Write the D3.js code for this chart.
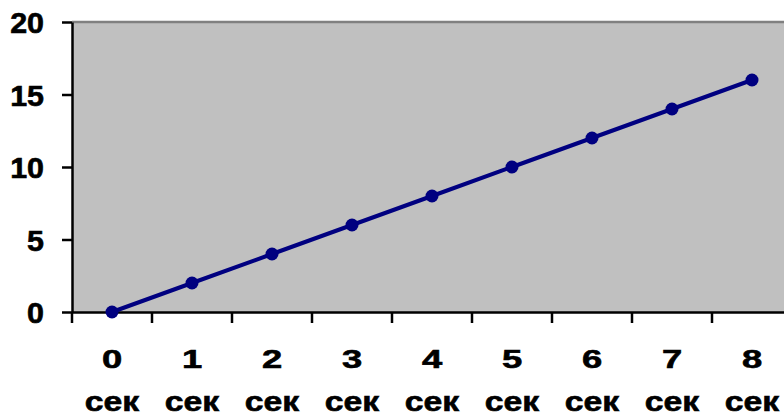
<!DOCTYPE html>
<html>
<head>
<meta charset="utf-8">
<script src="https://cdn.jsdelivr.net/npm/d3@7"></script>
<style>
  body { margin: 0; background: #fff; }
  svg { display: block; }
</style>
</head>
<body>
<div id="chart"></div>
<script>
// chart data
const seconds = ["0", "1", "2", "3", "4", "5", "6", "7", "8"];
const unit = "сек";
const values = [0, 2, 4, 6, 8, 10, 12, 14, 16];
const yTicks = [0, 5, 10, 15, 20];

const width = 784;
const height = 417;
const plot = { left: 72, top: 22, right: 792, bottom: 312 };

const svg = d3
  .select("#chart")
  .append("svg")
  .attr("width", width)
  .attr("height", height);

const x = d3.scaleBand().domain(seconds).range([plot.left, plot.right]).padding(0);
const y = d3.scaleLinear().domain([0, 20]).range([plot.bottom, plot.top]);

// plot area background
svg
  .append("rect")
  .attr("x", plot.left)
  .attr("y", plot.top)
  .attr("width", plot.right - plot.left)
  .attr("height", plot.bottom - plot.top)
  .attr("fill", "#c0c0c0");

// top border
svg
  .append("line")
  .attr("x1", plot.left)
  .attr("x2", plot.right)
  .attr("y1", plot.top)
  .attr("y2", plot.top)
  .attr("stroke", "#808080")
  .attr("stroke-width", 2.5);

// y axis
const yAxis = svg
  .append("g")
  .attr("transform", `translate(${plot.left},0)`)
  .call(d3.axisLeft(y).tickValues(yTicks).tickSize(10).tickSizeOuter(0));

yAxis.select(".domain").attr("stroke", "#000").attr("stroke-width", 2.5);
yAxis.selectAll(".tick line").attr("stroke", "#000").attr("stroke-width", 2.5);
yAxis.selectAll(".tick text").remove();
yAxis
  .selectAll(".tick")
  .append("text")
  .attr("transform", "translate(-28,10.5) scale(1.05,1)")
  .attr("text-anchor", "end")
  .attr("fill", "#000")
  .attr("stroke", "#000")
  .attr("stroke-width", 0.6)
  .style("font-family", "'Liberation Sans', Arial, sans-serif")
  .style("font-weight", "bold")
  .style("font-size", "29px")
  .text((d) => d);

// x axis
const xAxis = svg
  .append("g")
  .attr("transform", `translate(0,${plot.bottom})`)
  .call(d3.axisBottom(x).tickSize(0).tickSizeOuter(0));

xAxis.select(".domain").attr("stroke", "#000").attr("stroke-width", 2.5);
xAxis.selectAll(".tick text").remove();

// tick marks at category boundaries
xAxis
  .selectAll(".boundary")
  .data(seconds)
  .enter()
  .append("line")
  .attr("class", "boundary")
  .attr("x1", (d) => x(d))
  .attr("x2", (d) => x(d))
  .attr("y1", 0)
  .attr("y2", 11)
  .attr("stroke", "#000")
  .attr("stroke-width", 2.5);

const labels = xAxis
  .selectAll(".tick")
  .append("g")
  .style("font-family", "'Liberation Sans', Arial, sans-serif")
  .style("font-weight", "bold")
  .attr("fill", "#000")
  .attr("stroke", "#000")
  .attr("stroke-width", 0.6);

labels
  .append("text")
  .attr("transform", "translate(0,56) scale(1.4,1)")
  .attr("text-anchor", "middle")
  .style("font-size", "26px")
  .text((d) => d);

labels
  .append("text")
  .attr("transform", "translate(0,98.5) scale(1.25,1)")
  .attr("text-anchor", "middle")
  .style("font-size", "27px")
  .text(unit);

// line
const line = d3
  .line()
  .x((d, i) => x(seconds[i]) + x.bandwidth() / 2)
  .y((d) => y(d));

svg
  .append("path")
  .datum(values)
  .attr("fill", "none")
  .attr("stroke", "#000080")
  .attr("stroke-width", 4)
  .attr("d", line);

svg
  .selectAll(".dot")
  .data(values)
  .enter()
  .append("circle")
  .attr("class", "dot")
  .attr("cx", (d, i) => x(seconds[i]) + x.bandwidth() / 2)
  .attr("cy", (d) => y(d))
  .attr("r", 6.5)
  .attr("fill", "#000080");
</script>
</body>
</html>
